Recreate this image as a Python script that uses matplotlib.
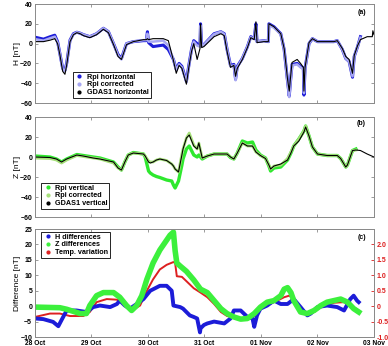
import numpy as np
import matplotlib
matplotlib.use("Agg")
import matplotlib.pyplot as plt
from matplotlib.lines import Line2D

plt.rcParams['font.family'] = ['Liberation Sans', 'DejaVu Sans']

nan = np.nan

# days since 28 Oct 00:00
day_labels = ['28 Oct', '29 Oct', '30 Oct', '31 Oct', '01 Nov', '02 Nov', '03 Nov']

# ---- panel (a): horizontal component [nT]
t_a = [0, 0.15, 0.27, 0.35, 0.40, 0.44, 0.49, 0.53, 0.56, 0.62, 0.68, 0.74, 0.80, 0.86, 0.97,
       1.09, 1.21, 1.30, 1.39, 1.47, 1.53, 1.62, 1.74, 1.92, 1.97, 1.99, 2.01, 2.09, 2.27, 2.36,
       2.45, 2.50, 2.55, 2.60, 2.68, 2.72, 2.77, 2.81, 2.87, 2.92, 2.93, 2.95, 2.99, 3.17, 3.29,
       3.35, 3.40, 3.46, 3.52, 3.55, 3.58, 3.67, 3.76, 3.82, 3.88, 3.91, 3.93, 4.05, 4.13, 4.14,
       4.23, 4.35, 4.41, 4.47, 4.50, 4.53, 4.55, 4.64, 4.70, 4.75, 4.76, 4.78, 4.85, 4.91, 5.00,
       5.29, 5.35, 5.44, 5.50, 5.56, 5.62, 5.65, 5.71, 5.76, 5.88, 5.97, 5.98, 6.0]
h_rpi = [6.5, 4.5, 7, 8.5, 2, -10, -25, -27, -20, 3.5, 10, 11.5, 10.5, 9, 7,
         10, 15.5, 12, 0, -11, -15, 0, 2, 3, 3, 12, 1, -3, -1.5, -6,
         -16, -26, -20, -23, -38, -23, -6, 3, 0, -2, 20, -2, -1, 10, 12,
         10, -6, -22, -21, -36, -23, -15, -3, 7, 5, 20, 2, 3, 2, 20,
         17, 10, -6, -38, -53, -33, -21, -20, -23, -25, -52, -25, 0, 5, 2,
         2, 3, -6, -15, -18, -34, -13, -3, 7, nan, nan, nan, nan]
h_corr = [4.5, 3, 5.5, 7, 1, -10, -26, -28, -21, 3, 9.5, 11.5, 10.5, 9, 7,
          10, 15.5, 12, 0, -12, -16, 0, 2, 3.5, 3.5, 10, 2, 2, 3, -2,
          -16, -27, -21, -24, -39, -24, -7, 2, -2, -3, 18, -3, -1, 9.5, 12,
          9.5, -6, -23, -22, -37, -24, -15, -3, 6.5, 5, 18, 2, 3, 2, 19,
          16, 9.5, -6, -39, -54, -34, -22, -21, -24, -26, -50, -26, 0, 5, 2,
          2, 3, -6, -15, -18, -33, -13, -3, 6, nan, nan, nan, nan]
h_gdas = [2, 2, 3.5, 5, 0, -11, -28, -31, -22, 2, 9, 11, 10, 8, 6,
          9, 14.5, 11, -1, -13, -16, -1, 2, 4, 4, 5, 4, 5, 5, 3,
          -17, -30, -22, -25, -41, -25, -8, 0, -16, -5, 20, -4, -3, 7, 10,
          8, -8, -24, -22, -33, -25, -16, -4, 6, 4, 22, 1, 2, 2, 20,
          17, 10, -5, -36, -48, -30, -19, -16, -20, -24, -48, -24, 1, 5, 2,
          2, 3, -5, -13, -16, -30, -12, -2, 4, 7, 7, 13, 9]

# ---- panel (b): vertical component [nT]
t_b = [0, 0.265, 0.38, 0.47, 0.56, 0.74, 0.855, 1.03, 1.15, 1.39, 1.47, 1.53, 1.59, 1.65, 1.74,
       1.92, 1.95, 2.01, 2.04, 2.09, 2.15, 2.21, 2.33, 2.42, 2.45, 2.48, 2.54, 2.60, 2.62, 2.68,
       2.73, 2.81, 2.87, 2.90, 2.96, 3.05, 3.17, 3.40, 3.46, 3.52, 3.58, 3.67, 3.76, 3.85, 3.91,
       3.99, 4.08, 4.14, 4.17, 4.23, 4.35, 4.47, 4.53, 4.58, 4.67, 4.76, 4.79, 4.85, 4.91, 5.00,
       5.17, 5.35, 5.41, 5.50, 5.53, 5.62, 5.68, 5.76, 5.88, 6.0]
z_rpi = [1, 0, -2, -5, -2, 2.5, 1.5, 0, -1, -5, -10, -13, -5, 2, 4.5,
         3, 0, -14, -16, -18, -19.5, -20.5, -23, -24, -28, -31, -24, -8, -2, 8,
         11, 2, 0, 2, -2, 1, 3, 3, -0.5, -2, 4, 16, 14, 15, 7,
         2, -1, -9, -14, -11, -10, -3, 4, 11, 18, 26, 31, 21, 10, 3,
         1.5, 1.5, -1.5, -10, -8, 6.5, 8, nan, nan, nan]
z_corr = [-1, -1.5, -3, -6, -3, 1.5, 0.5, -1, -2, -6, -11, -13, -5, 2, 4,
          3, 1, -4, -5, -5, -3, -2, -3.5, -7, -9, -12, -15, 3, 8, 19,
          24, 12, 8, 14, -1, 1, 3, 3, 0, -2, 4, 14, 11, 11, 5,
          1.5, -1.5, -8, -12, -9, -8, -1.5, 5, 11, 18, 26, 31, 21, 10, 3,
          1.5, 1.5, -1.5, -10, -8, 6.5, 7, nan, nan, nan]
z_gdas = [0, -0.5, -2, -5, -2, 2, 1, -1, -2, -5, -11, -13, -5, 2, 4,
          3, 1, -5, -6, -5, -3, -2, -3.5, -7, -9, -12, -15, 2, 8, 19,
          22, 11, 8, 14, -1, 1, 3, 3, 0, -2, 4, 14, 11, 11, 5,
          1.5, -1.5, -8, -12, -9, -7, -3, 4, 11, 16, 25, 30, 21, 10, 3,
          1.5, 1.5, -1.5, -10, -8, 6.5, 7, 6.5, 3, 0]

# ---- panel (c): differences [nT] and temperature variation (right axis)
t_hd = [0, 0.147, 0.32, 0.413, 0.47, 0.56, 0.737, 0.914, 1.03, 1.15, 1.33, 1.45, 1.50, 1.59, 1.68,
        1.80, 1.92, 2.04, 2.21, 2.33, 2.42, 2.45, 2.57, 2.62, 2.74, 2.81, 2.87, 2.92, 2.93, 2.99,
        3.05, 3.17, 3.35, 3.46, 3.52, 3.64, 3.76, 3.85, 3.88, 3.93, 3.99, 4.11, 4.23, 4.35, 4.47,
        4.58, 4.70, 4.82, 4.88, 5.00, 5.17, 5.35, 5.47, 5.58, 5.64, 5.70, 5.73]
h_diff = [-4, -4.2, -5.1, -6.5, -4.5, -1.4, -1.4, -1.9, -0.3, 0.2, -0.3, 0.7, 1.8, 0.2, -0.8,
          0.7, 2.3, 5, 6.6, 6.6, 5, 0.2, -0.3, -0.8, -3, -3.5, -4, -8.5, -7.2, -6.1,
          -5.6, -5, -5.6, -4, -1.4, -1.4, -3.5, -4, -6.7, -3, -0.8, 0.2, 1.8, 0.7, 0.7,
          2.3, -0.3, -3, -2.4, -0.3, 0.2, -0.3, -1.4, 2.3, 3.4, 1.8, 1.3]
t_zd = [0, 0.44, 0.56, 0.80, 0.91, 0.97, 1.09, 1.21, 1.39, 1.50, 1.62, 1.71, 1.80, 1.89, 1.98,
        2.09, 2.21, 2.33, 2.39, 2.45, 2.48, 2.51, 2.57, 2.68, 2.81, 2.93, 3.05, 3.17, 3.29, 3.40,
        3.52, 3.64, 3.76, 3.88, 3.99, 4.11, 4.23, 4.35, 4.41, 4.47, 4.53, 4.58, 4.70, 4.82, 4.94,
        5.06, 5.17, 5.29, 5.41, 5.53, 5.64, 5.73]
z_diff = [-0.3, -0.5, -1, -2.4, -2.4, 0.2, 3.4, 4.4, 4.4, 2.9, 0.2, -1.4, 0.2, 3.4, 8.7,
          14, 18.2, 21.4, 23, 24, 18, 14, 13, 11.3, 8.5, 5.5, 4.4, 1.8, -0.8, -2.4,
          -3.5, -4.2, -4, -2.4, -0.3, 1.3, 1.8, 3.4, 5.5, 6, 4.4, 1.8, -1.9, -2.4, -1.4,
          0.2, 1.3, 1.8, 2.3, 1.3, -0.8, -1.9]
t_temp = [0, 0.265, 0.44, 0.62, 0.855, 0.97, 1.09, 1.27, 1.45, 1.56, 1.71, 1.86, 1.98, 2.09, 2.21,
          2.33, 2.45, 2.48, 2.51, 2.60, 2.68, 2.81, 2.93, 3.05, 3.17, 3.29, 3.40, 3.58, 3.76, 3.88,
          3.99, 4.11, 4.29, 4.41, 4.50, 4.58, 4.70, 4.82, 4.94, 5.06, 5.29, 5.47, 5.58, 5.73]
temp_var = [-0.35, -0.24, -0.24, -0.32, -0.32, -0.19, 0.13, 0.23, 0.21, 0.07, -0.14, 0.02, 0.5, 0.87, 1.19,
            1.34, 1.43, 1.40, 0.97, 0.95, 0.81, 0.58, 0.44, 0.29, 0.07, -0.19, -0.32, -0.40, -0.38, -0.32,
            -0.08, 0.04, 0.18, 0.29, 0.34, 0.23, -0.19, -0.26, -0.19, -0.03, 0.11, 0.13, 0.04, -0.14]

c_blue = '#1c1cd8'
c_lav = '#a8a8f2'
c_green = '#2ee82e'
c_lgreen = '#a6e07a'
c_zd = '#3cf03c'
c_red = '#dd2020'
grey = '#8a8a8a'
tick_font = {'size': 5, 'weight': 'bold'}
leg_font = {'size': 5.2, 'weight': 'bold'}


def style(ax, ylim, yticks):
    ax.set_xlim(0, 6)
    ax.set_ylim(*ylim)
    ax.set_yticks(yticks)
    ax.set_xticks(range(7))
    for s in ax.spines.values():
        s.set_color(grey)
        s.set_linewidth(0.7)
    ax.tick_params(direction='in', top=True, right=True, length=2.5, width=0.6,
                   color=grey, labelsize=5, pad=2)
    for lab in ax.get_yticklabels():
        lab.set_fontweight('bold')
    ax.yaxis.set_label_coords(-0.042, 0.5)


def legend(ax, handles, labels, **kw):
    lg = ax.legend(handles, labels, prop=leg_font, frameon=True, fancybox=False,
                   edgecolor='black', framealpha=1, handlelength=1.3, handletextpad=0.4,
                   borderpad=0.25, labelspacing=0.1, borderaxespad=0, **kw)
    lg.get_frame().set_linewidth(0.6)


def dot(c):
    return Line2D([], [], marker='.', ls='none', color=c, markersize=4)


fig = plt.figure(figsize=(3.88, 3.46), dpi=100)
ax1 = fig.add_axes([0.0902, 0.7023, 0.8737, 0.2861])
ax2 = fig.add_axes([0.0902, 0.3728, 0.8737, 0.2890])
ax3 = fig.add_axes([0.0902, 0.0260, 0.8737, 0.3120])

# (a)
ax1.plot(t_a, h_rpi, color=c_blue, lw=2.2)
ax1.plot(t_a, h_corr, color=c_lav, lw=1.8)
ax1.plot(t_a, h_gdas, color='black', lw=0.8)
style(ax1, (-60, 40), [-60, -40, -20, 0, 20, 40])
ax1.set_xticklabels([])
ax1.set_ylabel('H [nT]', fontsize=6)
legend(ax1, [dot(c_blue), dot(c_lav), dot('black')],
       ['Rpi horizontal', 'Rpi corrected', 'GDAS1 horizontal'],
       loc='lower left', bbox_to_anchor=(0.112, 0.05))
ax1.text(0.976, 0.95, '(a)', transform=ax1.transAxes, ha='right', va='top',
         fontsize=5, fontweight='bold')

# (b)
ax2.plot(t_b, z_rpi, color=c_green, lw=2.4)
ax2.plot(t_b, z_corr, color=c_lgreen, lw=2.0)
ax2.plot(t_b, z_gdas, color='black', lw=0.8)
style(ax2, (-60, 40), [-60, -40, -20, 0, 20, 40])
ax2.set_xticklabels([])
ax2.set_ylabel('Z [nT]', fontsize=6)
legend(ax2, [dot(c_green), dot(c_lgreen), dot('black')],
       ['Rpi vertical', 'Rpi corrected', 'GDAS1 vertical'],
       loc='lower left', bbox_to_anchor=(0.018, 0.08))
ax2.text(0.976, 0.97, '(b)', transform=ax2.transAxes, ha='right', va='top',
         fontsize=5, fontweight='bold')

# (c)
ax3r = ax3.twinx()
ax3.plot(t_hd, h_diff, color=c_blue, lw=2.8)
ax3.plot(t_zd, z_diff, color=c_zd, lw=4.0)
ax3r.plot(t_temp, temp_var, color=c_red, lw=1.4)
style(ax3, (-10, 25), [-10, -5, 0, 5, 10, 15, 20, 25])
ax3.tick_params(right=False)
ax3.tick_params(axis='x', pad=2.2)
ax3.set_xticklabels(day_labels, fontdict={'size': 4.8, 'weight': 'bold'})
ax3.set_ylabel('Difference [nT]', fontsize=6)
ax3r.set_ylim(-1, 2.5)
ax3r.set_yticks([-1, -0.5, 0, 0.5, 1, 1.5, 2])
ax3r.set_yticklabels(['-1.0', '-0.5', '0', '0.5', '1.0', '1.5', '2.0'], fontdict=tick_font)
ax3r.tick_params(direction='in', length=2.5, width=0.6, color=c_red, labelcolor=c_red, pad=2)
for s in ax3r.spines.values():
    s.set_color(grey)
    s.set_linewidth(0.7)
legend(ax3, [dot(c_blue), dot(c_zd), dot(c_red)],
       ['H differences', 'Z differences', 'Temp. variation'],
       loc='upper left', bbox_to_anchor=(0.018, 0.975))
ax3.set_zorder(ax3r.get_zorder() + 1)
ax3.patch.set_visible(False)
ax3.text(0.976, 0.955, '(c)', transform=ax3.transAxes, ha='right', va='top',
         fontsize=5, fontweight='bold')

fig.savefig('out.png', dpi=100)
